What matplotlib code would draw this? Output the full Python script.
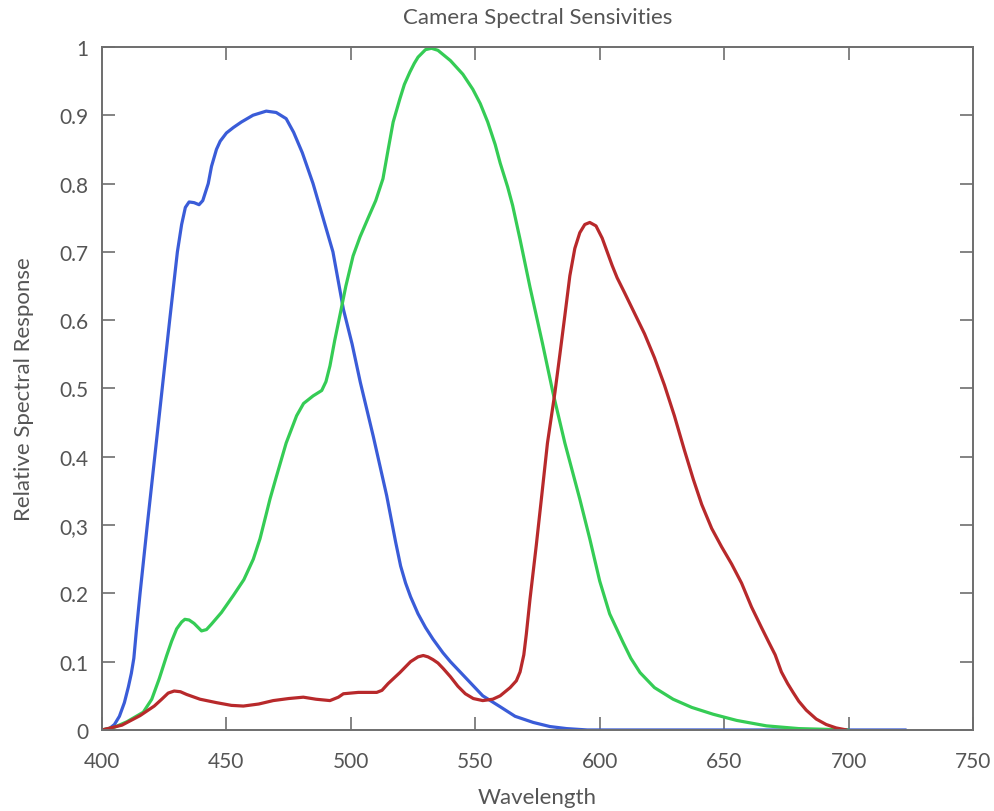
import matplotlib
matplotlib.use("Agg")
import matplotlib.pyplot as plt

# Blue channel
wl_blue = [400, 403, 405, 407, 409, 410.6, 411.8, 412.8, 413.8, 415.3, 418.2, 421.2, 424.2,
           427.2, 430.3, 432, 433.5, 435, 437, 439, 440.5, 442.7, 444, 446, 447.5, 450,
           452.8, 456, 460.7, 466, 470, 474, 477, 480.5, 484.8, 488.8, 492.8, 497, 500.5,
           503.8, 509, 514.4, 518, 520, 522, 524, 527, 530, 533, 537, 540, 546.5, 553, 560,
           566, 573.3, 580, 586.7, 595, 723]
blue = [0, 0.002, 0.008, 0.02, 0.04, 0.063, 0.083, 0.105, 0.145, 0.2, 0.3, 0.4, 0.5,
        0.6, 0.7, 0.74, 0.765, 0.773, 0.772, 0.769, 0.775, 0.80, 0.825, 0.85, 0.862, 0.874,
        0.882, 0.89, 0.90, 0.906, 0.904, 0.895, 0.875, 0.845, 0.80, 0.75, 0.70, 0.616,
        0.565, 0.509, 0.43, 0.343, 0.275, 0.24, 0.215, 0.195, 0.17, 0.15, 0.133, 0.113,
        0.10, 0.075, 0.05, 0.034, 0.02, 0.011, 0.005, 0.002, 0.0, 0.0]

# Green channel
wl_green = [400, 405, 410, 416.6, 420, 423, 426, 428, 430, 432, 433.3, 435, 437, 440, 442,
            444, 448, 452.8, 457, 460.8, 463.5, 466.2, 467.5, 470, 474, 478.2, 481, 484.8,
            488.3, 490, 491.6, 493.5, 495.6, 498, 500.9, 503.7, 507, 510, 512.9, 515, 517,
            519.7, 521.5, 523.7, 525.5, 527, 530, 532.4, 535, 540, 545, 549, 552, 555, 558,
            560, 563, 565, 568, 572, 577, 581.2, 586, 592, 596, 600, 604, 609.4, 612.5,
            616.2, 622, 629.5, 637, 645.6, 655, 667, 680, 700]
green = [0, 0.004, 0.012, 0.026, 0.045, 0.075, 0.109, 0.13, 0.148, 0.158, 0.162, 0.161,
         0.156, 0.145, 0.147, 0.155, 0.172, 0.197, 0.22, 0.25, 0.28, 0.319, 0.338, 0.37,
         0.42, 0.46, 0.478, 0.489, 0.497, 0.51, 0.533, 0.57, 0.607, 0.65, 0.694, 0.722,
         0.75, 0.775, 0.807, 0.85, 0.89, 0.924, 0.945, 0.963, 0.976, 0.985, 0.996, 0.998,
         0.995, 0.98, 0.96, 0.938, 0.917, 0.89, 0.857, 0.83, 0.795, 0.768, 0.718, 0.648,
         0.566, 0.494, 0.42, 0.338, 0.28, 0.218, 0.17, 0.128, 0.105, 0.084, 0.062, 0.045,
         0.033, 0.023, 0.014, 0.006, 0.002, 0.0]

# Red channel
wl_red = [400, 408, 415.3, 421, 424, 426.6, 429, 431.5, 434, 439.4, 446, 452, 456.8, 463,
          468.8, 475, 480.9, 486, 491.6, 495, 497, 503, 510.4, 512.5, 515, 519.7, 524, 527,
          529.1, 531, 533, 535, 537.1, 540, 543, 546, 549.2, 553, 557, 560, 564, 566.5,
          568, 569.5, 570.5, 572, 574.5, 576.7, 579, 582, 584, 586, 588, 590, 592, 594, 596,
          598.5, 601, 603, 605, 607, 610, 614, 618, 622, 626, 630, 634, 637.6, 641, 645,
          649, 653, 657, 661, 665, 668, 670.5, 673, 675.5, 677.7, 680, 683, 687, 691, 695,
          699.2]
red = [0, 0.007, 0.021, 0.035, 0.045, 0.054, 0.057, 0.056, 0.052, 0.045, 0.04, 0.036,
       0.035, 0.038, 0.043, 0.046, 0.048, 0.045, 0.043, 0.048, 0.053, 0.055, 0.055, 0.058,
       0.068, 0.084, 0.1, 0.107, 0.109, 0.107, 0.103, 0.098, 0.09, 0.078, 0.064, 0.053,
       0.046, 0.043, 0.045, 0.05, 0.062, 0.072, 0.085, 0.11, 0.14, 0.192, 0.27, 0.343,
       0.42, 0.494, 0.55, 0.607, 0.665, 0.705, 0.728, 0.74, 0.743, 0.738, 0.72, 0.70, 0.68,
       0.662, 0.64, 0.61, 0.58, 0.545, 0.505, 0.46, 0.41, 0.367, 0.33, 0.295, 0.268,
       0.243, 0.215, 0.18, 0.15, 0.128, 0.11, 0.085, 0.068, 0.055, 0.042, 0.029, 0.016,
       0.008, 0.003, 0]

x_ticks = [400, 450, 500, 550, 600, 650, 700, 750]
y_ticks = [0, 0.1, 0.2, 0.3, 0.4, 0.5, 0.6, 0.7, 0.8, 0.9, 1]
y_tick_labels = ["0", "0.1", "0.2", "0,3", "0.4", "0.5", "0.6", "0.7", "0.8", "0.9", "1"]

plt.rcParams['font.family'] = ['Lato', 'DejaVu Sans']
text_color = "#555555"
axis_color = "#6e6e6e"

fig = plt.figure(figsize=(9.95, 8.12), dpi=100)
ax = fig.add_axes([0.1025, 0.0998, 0.8754, 0.8412])

line_kw = dict(linewidth=2.3, solid_joinstyle="round", solid_capstyle="round")
ax.plot(wl_blue, blue, color="#3a5cd8", **line_kw)
ax.plot(wl_green, green, color="#35cc55", **line_kw)
ax.plot(wl_red, red, color="#b8292b", **line_kw)

ax.set_xlim(400, 750)
ax.set_ylim(0, 1)
ax.set_xticks(x_ticks)
ax.set_yticks(y_ticks)
ax.set_yticklabels(y_tick_labels)

ax.tick_params(direction="in", length=9.5, width=1.2, color=axis_color,
               labelcolor=text_color, labelsize=15, top=True, right=True)
ax.tick_params(axis="x", pad=15)
ax.tick_params(axis="y", pad=10)
for s in ax.spines.values():
    s.set_color(axis_color)
    s.set_linewidth(1.4)

ax.set_title("Camera Spectral Sensivities", color=text_color, fontsize=16, pad=17)
ax.set_xlabel("Wavelength", color=text_color, fontsize=16, labelpad=12)
ax.set_ylabel("Relative Spectral Response", color=text_color, fontsize=16, labelpad=18)

fig.savefig("out.png", dpi=100)
